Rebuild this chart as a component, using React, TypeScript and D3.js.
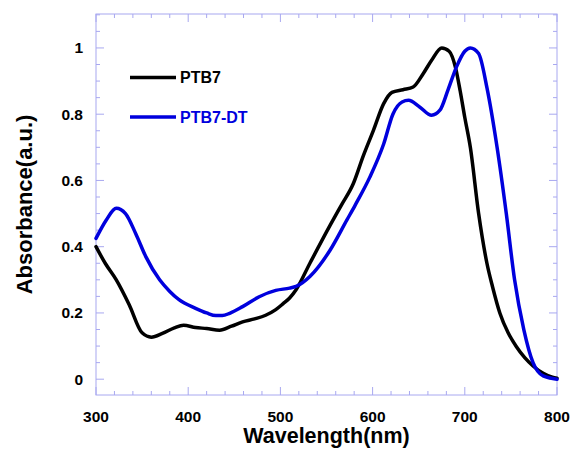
import React from 'react';
import * as d3 from 'd3';

// PTB7 absorbance spectrum (wavelength nm, absorbance a.u.)
const ptb7Wave = [300, 310, 322, 336, 350, 360, 372, 385, 395, 408, 420, 434, 447, 459, 472, 484, 495, 503, 510, 517, 532, 554, 566, 579, 590, 601, 612, 621, 633, 644, 655, 664, 675, 683, 690, 695, 700, 706, 715, 724, 730, 738, 747, 756, 765, 774, 785, 795, 800];
const ptb7Abs = [0.40, 0.35, 0.30, 0.225, 0.14, 0.127, 0.138, 0.155, 0.163, 0.156, 0.153, 0.148, 0.16, 0.173, 0.182, 0.193, 0.21, 0.228, 0.245, 0.27, 0.35, 0.465, 0.525, 0.59, 0.675, 0.752, 0.832, 0.866, 0.874, 0.882, 0.923, 0.963, 1.0, 0.99, 0.94, 0.87, 0.79, 0.70, 0.50, 0.35, 0.28, 0.20, 0.14, 0.098, 0.065, 0.04, 0.018, 0.006, 0.003];

// PTB7-DT absorbance spectrum
const dtWave = [300, 311, 322, 332, 343, 354, 369, 380, 390, 408, 420, 430, 437, 445, 459, 477, 495, 510, 517, 532, 554, 572, 581, 597, 612, 622, 632, 639, 651, 664, 673, 682, 691, 700, 706, 715, 724, 735, 745, 754, 764, 774, 785, 800];
const dtAbs = [0.425, 0.48, 0.516, 0.50, 0.44, 0.37, 0.30, 0.265, 0.24, 0.214, 0.20, 0.192, 0.192, 0.199, 0.219, 0.249, 0.268, 0.275, 0.28, 0.31, 0.39, 0.48, 0.525, 0.61, 0.71, 0.80, 0.837, 0.842, 0.822, 0.797, 0.812, 0.875, 0.943, 0.99, 1.0, 0.983, 0.88, 0.70, 0.50, 0.30, 0.15, 0.05, 0.01, 0.0];

const seriesNames = ['PTB7', 'PTB7-DT'];
const seriesColors = ['#000000', '#0000dd'];

const xTicks = [300, 400, 500, 600, 700, 800];
const yTicks = [0, 0.2, 0.4, 0.6, 0.8, 1];

const W = 572, H = 462;
const left = 96, right = 557, top = 14, bottom = 395;
const frame = '#a8a8f0';
const font = '"Liberation Sans", Arial, sans-serif';

const App = () => {
    const x = d3.scaleLinear().domain([300, 800]).range([left, right]);
    const y = d3.scaleLinear().domain([-0.0477, 1.1025]).range([bottom, top]);

    const line = d3.line<[number, number]>()
        .x(d => x(d[0]))
        .y(d => y(d[1]))
        .curve(d3.curveMonotoneX);

    const series = [
        d3.zip(ptb7Wave, ptb7Abs) as [number, number][],
        d3.zip(dtWave, dtAbs) as [number, number][],
    ];

    const xMinor = d3.range(300, 801, 20);
    const yMinor = d3.range(0, 1.101, 0.05);
    const isMajorX = (v: number) => v % 100 === 0;
    const isMajorY = (v: number) => Math.abs(v * 5 - Math.round(v * 5)) < 1e-6;

    return (
        <svg width={W} height={H} style={{ position: 'absolute', left: 0, top: 0, background: '#fff' }}>
            {/* ticks on all four sides, pointing inward */}
            <g stroke={frame} strokeWidth={1}>
                {xMinor.map(v => {
                    const len = isMajorX(v) ? 8 : 4;
                    return (
                        <g key={'x' + v}>
                            <line x1={x(v)} x2={x(v)} y1={bottom} y2={bottom - len} />
                            <line x1={x(v)} x2={x(v)} y1={top} y2={top + len} />
                        </g>
                    );
                })}
                {yMinor.map(v => {
                    const len = isMajorY(v) ? 8 : 4;
                    return (
                        <g key={'y' + v}>
                            <line x1={left} x2={left + len} y1={y(v)} y2={y(v)} />
                            <line x1={right} x2={right - len} y1={y(v)} y2={y(v)} />
                        </g>
                    );
                })}
                <rect x={left} y={top} width={right - left} height={bottom - top} fill="none" />
            </g>

            {series.map((s, i) => (
                <path key={seriesNames[i]} d={line(s) ?? ''} fill="none" stroke={seriesColors[i]}
                    strokeWidth={3.5} strokeLinejoin="round" strokeLinecap="round" />
            ))}

            <g fontFamily={font} fontWeight="bold" fontSize={15.5}>
                {xTicks.map(v => (
                    <text key={v} x={x(v)} y={422} textAnchor="middle">{v}</text>
                ))}
                {yTicks.map(v => (
                    <text key={v} x={83} y={y(v)} dy="0.35em" textAnchor="end">{v}</text>
                ))}
            </g>

            {/* legend */}
            <g fontFamily={font} fontWeight="bold" fontSize={16}>
                {seriesNames.map((name, i) => (
                    <g key={name} transform={`translate(130, ${77.5 + i * 39.5})`}>
                        <line x1={0} x2={46} y1={0} y2={0} stroke={seriesColors[i]} strokeWidth={3.5} />
                        <text x={50} y={0} dy="0.36em" fill={seriesColors[i]}>{name}</text>
                    </g>
                ))}
            </g>

            <text x={(left + right) / 2} y={443} textAnchor="middle" fontFamily={font}
                fontWeight="bold" fontSize={21.5}>Wavelength(nm)</text>
            <text transform={`translate(32, ${(top + bottom) / 2}) rotate(-90)`} textAnchor="middle"
                fontFamily={font} fontWeight="bold" fontSize={22}>Absorbance(a.u.)</text>
        </svg>
    );
};

export default App;
